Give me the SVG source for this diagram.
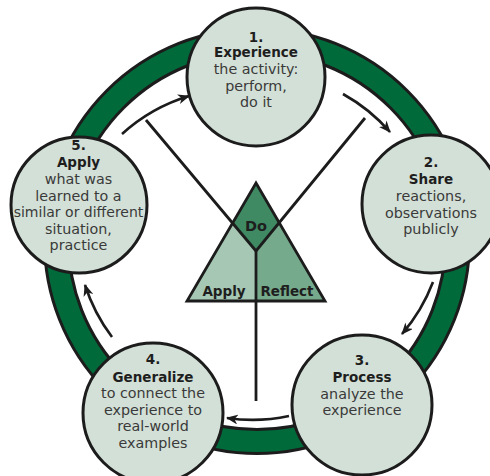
<svg xmlns="http://www.w3.org/2000/svg" width="490" height="476" viewBox="0 0 490 476">
<defs>
<style>
.node{fill:#d3e0d7;stroke:#1c1c1c;stroke-width:3}
.num,.title{font-family:"DejaVu Sans",sans-serif;font-weight:bold;font-size:13.5px;fill:#1e1e1e;text-anchor:middle}
.body{font-family:"DejaVu Sans",sans-serif;font-size:14.3px;fill:#3a3a3a;text-anchor:middle}
.lbl{font-family:"DejaVu Sans",sans-serif;font-weight:bold;font-size:13.5px;fill:#1e1e1e;text-anchor:middle}
.arc{fill:none;stroke:#1c1c1c;stroke-width:2.6;marker-end:url(#ah)}
.ln{fill:none;stroke:#1c1c1c;stroke-width:2.8}
</style>
<marker id="ah" viewBox="0 0 12 10" refX="11" refY="5" markerWidth="12" markerHeight="10" markerUnits="userSpaceOnUse" orient="auto">
<path d="M0,0 L12,5 L0,10 L3.5,5 z" fill="#1c1c1c"/>
</marker>
</defs>
<g id="ring">
<circle cx="257" cy="241" r="200.5" fill="none" stroke="#1c1c1c" stroke-width="27"/>
<circle cx="257" cy="241" r="200.5" fill="none" stroke="#006a3a" stroke-width="21"/>
</g>
<g id="triangle">
<polygon points="256,183 233,223 256,251 279,223" fill="#3f8a63"/>
<polygon points="233,223 256,251 256,301 187,301" fill="#a5c7b3"/>
<polygon points="279,223 256,251 256,301 325,301" fill="#76aa8c"/>
</g>
<g id="connectors">
<path class="ln" d="M146,120 L256,251 L365,118"/>
<path class="ln" d="M256,251 L256,401"/>
<path class="arc" d="M343,94 A175,175 0 0 1 390,132"/>
<path class="arc" d="M433,282 A175,175 0 0 1 402,334"/>
<path class="arc" d="M289,416 A175,175 0 0 1 227,418"/>
<path class="arc" d="M112,337 A175,175 0 0 1 85,285"/>
<path class="arc" d="M122,134 A175,175 0 0 1 189,96"/>
</g>
<g id="triangle-outline">
<polygon points="256,183 325,301 187,301" fill="none" stroke="#1c1c1c" stroke-width="2.8" stroke-linejoin="miter"/>
<text class="lbl" x="256" y="231" style="font-size:14.5px">Do</text>
<text class="lbl" x="224" y="296">Apply</text>
<text class="lbl" x="287" y="296">Reflect</text>
</g>
<g id="node1">
<circle class="node" cx="256" cy="77" r="69"/>
<text class="num" x="256" y="42">1.</text>
<text class="title" x="256" y="57">Experience</text>
<text class="body" x="256" y="74">the activity:</text>
<text class="body" x="256" y="90.5">perform,</text>
<text class="body" x="256" y="107">do it</text>
</g>
<g id="node2">
<circle class="node" cx="431" cy="204" r="69"/>
<text class="num" x="431" y="167">2.</text>
<text class="title" x="431" y="184">Share</text>
<text class="body" x="431" y="201">reactions,</text>
<text class="body" x="431" y="217.5">observations</text>
<text class="body" x="431" y="233.5">publicly</text>
</g>
<g id="node3">
<circle class="node" cx="362" cy="405" r="70"/>
<text class="num" x="362" y="365">3.</text>
<text class="title" x="362" y="382">Process</text>
<text class="body" x="362" y="399">analyze the</text>
<text class="body" x="362" y="415">experience</text>
</g>
<g id="node4">
<circle class="node" cx="153" cy="413" r="70"/>
<text class="num" x="153" y="364">4.</text>
<text class="title" x="153" y="381.5">Generalize</text>
<text class="body" x="153" y="398">to connect the</text>
<text class="body" x="153" y="414.5">experience to</text>
<text class="body" x="153" y="431">real-world</text>
<text class="body" x="153" y="447.5">examples</text>
</g>
<g id="node5">
<circle class="node" cx="79" cy="205" r="68"/>
<text class="num" x="78.5" y="150">5.</text>
<text class="title" x="78.5" y="167">Apply</text>
<text class="body" x="78.5" y="183.5">what was</text>
<text class="body" x="78.5" y="200.5">learned to a</text>
<text class="body" x="78.5" y="216.5" style="font-size:14px">similar or different</text>
<text class="body" x="78.5" y="233.5">situation,</text>
<text class="body" x="78.5" y="250">practice</text>
</g>
</svg>
